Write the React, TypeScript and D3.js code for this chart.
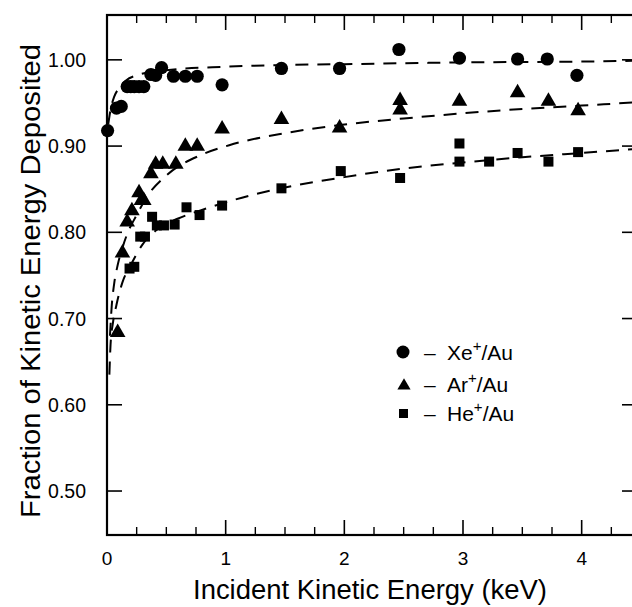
import React from "react";
import * as d3 from "d3";

// ---- data ----
const xeX = [0.005, 0.08, 0.12, 0.17, 0.2, 0.23, 0.27, 0.31, 0.37, 0.41, 0.46, 0.56, 0.66, 0.76, 0.97, 1.47, 1.96, 2.46, 2.97, 3.46, 3.71, 3.96];
const xeY = [0.918, 0.944, 0.946, 0.969, 0.969, 0.969, 0.969, 0.969, 0.983, 0.982, 0.991, 0.981, 0.981, 0.981, 0.971, 0.99, 0.99, 1.012, 1.002, 1.001, 1.001, 0.982];

const arX = [0.09, 0.13, 0.17, 0.21, 0.27, 0.29, 0.31, 0.37, 0.41, 0.47, 0.58, 0.66, 0.76, 0.97, 1.47, 1.96, 2.47, 2.47, 2.97, 3.46, 3.72, 3.97];
const arY = [0.685, 0.777, 0.813, 0.826, 0.847, 0.838, 0.838, 0.869, 0.88, 0.88, 0.88, 0.901, 0.901, 0.921, 0.932, 0.922, 0.954, 0.943, 0.953, 0.963, 0.953, 0.942];

const heX = [0.19, 0.23, 0.28, 0.32, 0.38, 0.42, 0.48, 0.57, 0.67, 0.78, 0.97, 1.47, 1.97, 2.47, 2.97, 2.97, 3.22, 3.46, 3.72, 3.97];
const heY = [0.758, 0.76, 0.795, 0.795, 0.818, 0.808, 0.808, 0.809, 0.829, 0.82, 0.831, 0.851, 0.871, 0.863, 0.903, 0.882, 0.882, 0.892, 0.882, 0.893];

// fitted (dashed) curves
const xeFitX = [0.01, 0.03, 0.06, 0.1, 0.16, 0.25, 0.5, 1, 1.5, 2, 3, 4, 4.5];
const xeFitY = [0.925, 0.942, 0.957, 0.967, 0.976, 0.982, 0.988, 0.992, 0.994, 0.995, 0.997, 0.998, 0.999];

const arFitX = [0.025, 0.04, 0.06, 0.09, 0.13, 0.17, 0.25, 0.34, 0.5, 0.78, 1.03, 1.5, 2, 2.5, 3, 3.5, 4, 4.5];
const arFitY = [0.68, 0.715, 0.74, 0.762, 0.782, 0.798, 0.82, 0.842, 0.866, 0.889, 0.901, 0.915, 0.925, 0.932, 0.938, 0.943, 0.947, 0.951];

const heFitX = [0.02, 0.03, 0.05, 0.08, 0.13, 0.2, 0.3, 0.42, 0.6, 0.8, 1.03, 1.5, 2, 2.5, 3, 3.5, 4, 4.5];
const heFitY = [0.635, 0.67, 0.695, 0.716, 0.742, 0.762, 0.786, 0.803, 0.816, 0.826, 0.836, 0.852, 0.864, 0.874, 0.881, 0.887, 0.892, 0.897];

const xTickLabels = ["0", "1", "2", "3", "4"];
const yTickLabels = ["0.50", "0.60", "0.70", "0.80", "0.90", "1.00"];

const W = 632;
const H = 607;
const FONT = "'Liberation Sans', Arial, Helvetica, sans-serif";

export default function App() {
  const x = d3.scaleLinear().domain([0, 4.5]).range([107, 641]);
  const y = d3.scaleLinear().domain([0.449, 1.052]).range([535, 15]);

  const line = d3
    .line<[number, number]>()
    .x((d) => x(d[0]))
    .y((d) => y(d[1]))
    .curve(d3.curveMonotoneX);

  const fits = [
    xeFitX.map((v, i) => [v, xeFitY[i]] as [number, number]),
    arFitX.map((v, i) => [v, arFitY[i]] as [number, number]),
    heFitX.map((v, i) => [v, heFitY[i]] as [number, number]),
  ];

  const triPath = (cx: number, cy: number, s: number) =>
    `M${cx},${cy - s * 0.62}L${cx + s * 0.6},${cy + s * 0.42}L${cx - s * 0.6},${cy + s * 0.42}Z`;

  const x0 = x(0), x1 = x(4.5), yTop = y(1.052), yBot = y(0.449);
  const majorX = d3.range(0, 5, 1);
  const minorX = d3.range(0, 4.51, 0.25).filter((v) => Math.abs(v - Math.round(v)) > 1e-6);
  const yTicks = yTickLabels.map((t) => +t);

  return (
    <svg
      width={W}
      height={H}
      style={{ position: "absolute", left: 0, top: 0, background: "#fff" }}
      fontFamily={FONT}
    >
      <rect x={0} y={0} width={W} height={H} fill="#fff" />
      {/* frame */}
      <rect x={x0} y={yTop} width={x1 - x0} height={yBot - yTop} fill="none" stroke="#000" strokeWidth={2.2} />
      {/* x ticks bottom & top */}
      {majorX.map((v) => (
        <g key={"mx" + v}>
          <line x1={x(v)} x2={x(v)} y1={yBot} y2={yBot - 15} stroke="#000" strokeWidth={1.6} />
          <line x1={x(v)} x2={x(v)} y1={yTop} y2={yTop + 15} stroke="#000" strokeWidth={1.6} />
        </g>
      ))}
      {minorX.map((v) => (
        <g key={"nx" + v}>
          <line x1={x(v)} x2={x(v)} y1={yBot} y2={yBot - 8} stroke="#000" strokeWidth={1.4} />
          <line x1={x(v)} x2={x(v)} y1={yTop} y2={yTop + 8} stroke="#000" strokeWidth={1.4} />
        </g>
      ))}
      {/* y ticks left & right */}
      {yTicks.map((v) => (
        <g key={"y" + v}>
          <line x1={x0} x2={x0 + 15} y1={y(v)} y2={y(v)} stroke="#000" strokeWidth={1.6} />
          <line x1={x1} x2={x1 - 19} y1={y(v)} y2={y(v)} stroke="#000" strokeWidth={1.6} />
        </g>
      ))}
      {/* tick labels */}
      {xTickLabels.map((t) => (
        <text key={"xl" + t} x={x(+t)} y={565} textAnchor="middle" fontSize={19}>
          {t}
        </text>
      ))}
      {yTickLabels.map((t) => (
        <text key={"yl" + t} x={86} y={y(+t) + 7} textAnchor="end" fontSize={19.5}>
          {t}
        </text>
      ))}
      {/* axis titles */}
      <text x={370} y={599} textAnchor="middle" fontSize={27} textLength={354} lengthAdjust="spacingAndGlyphs">
        Incident Kinetic Energy (keV)
      </text>
      <text
        transform={`translate(40,281) rotate(-90)`}
        textAnchor="middle"
        fontSize={27}
        textLength={474}
        lengthAdjust="spacingAndGlyphs"
      >
        Fraction of Kinetic Energy Deposited
      </text>

      {/* fitted curves */}
      {fits.map((f, i) => (
        <path key={"fit" + i} d={line(f) || ""} fill="none" stroke="#000" strokeWidth={2} strokeDasharray="13,9" />
      ))}

      {/* data */}
      {xeX.map((v, i) => (
        <circle key={"xe" + i} cx={x(v)} cy={y(xeY[i])} r={6.6} fill="#000" />
      ))}
      {arX.map((v, i) => (
        <path key={"ar" + i} d={triPath(x(v), y(arY[i]), 13)} fill="#000" />
      ))}
      {heX.map((v, i) => (
        <rect key={"he" + i} x={x(v) - 5} y={y(heY[i]) - 5} width={10} height={10} fill="#000" />
      ))}

      {/* legend */}
      <circle cx={403} cy={352} r={6.5} fill="#000" />
      <path d={triPath(404, 385, 11)} fill="#000" />
      <rect x={399} y={409} width={9} height={9} fill="#000" />
      {[
        { ion: "Xe", yy: 360 },
        { ion: "Ar", yy: 392 },
        { ion: "He", yy: 421 },
      ].map((e) => (
        <g key={e.ion}>
          <text x={424} y={e.yy} fontSize={21}>–</text>
          <text x={447} y={e.yy} fontSize={21}>
            {e.ion}
            <tspan dy={-9} fontSize={15}>+</tspan>
            <tspan dy={9}>/Au</tspan>
          </text>
        </g>
      ))}
    </svg>
  );
}
